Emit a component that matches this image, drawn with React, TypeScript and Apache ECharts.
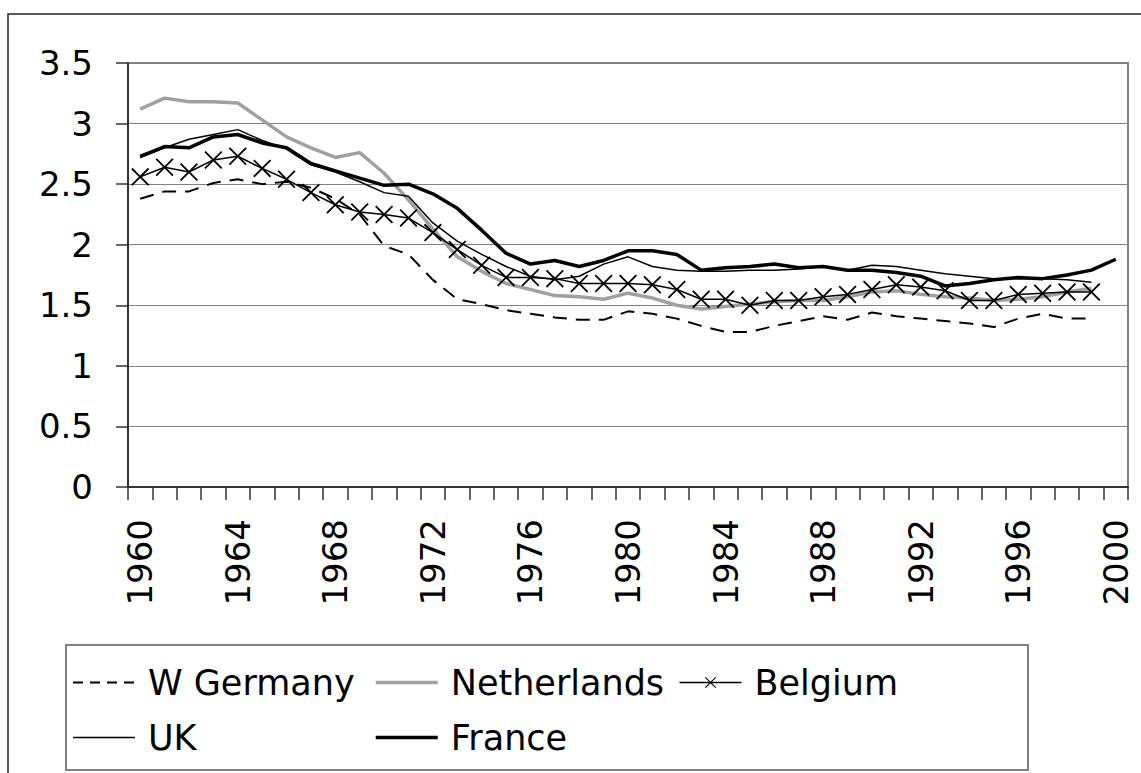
import React, { useEffect, useRef } from "react";
import * as echarts from "echarts";

const years = [
  "1960", "1961", "1962", "1963", "1964", "1965", "1966", "1967", "1968", "1969",
  "1970", "1971", "1972", "1973", "1974", "1975", "1976", "1977", "1978", "1979",
  "1980", "1981", "1982", "1983", "1984", "1985", "1986", "1987", "1988", "1989",
  "1990", "1991", "1992", "1993", "1994", "1995", "1996", "1997", "1998", "1999",
  "2000",
];

const wGermany = [
  2.38, 2.44, 2.44, 2.51, 2.54, 2.5, 2.52, 2.47, 2.38, 2.25,
  1.99, 1.92, 1.71, 1.55, 1.51, 1.46, 1.43, 1.4, 1.38, 1.38,
  1.45, 1.43, 1.39, 1.33, 1.28, 1.28, 1.33, 1.37, 1.41, 1.38,
  1.44, 1.41, 1.39, 1.37, 1.35, 1.32, 1.39, 1.43, 1.39, 1.39,
  null,
];

const netherlands = [
  3.12, 3.21, 3.18, 3.18, 3.17, 3.03, 2.89, 2.8, 2.72, 2.76,
  2.59, 2.37, 2.13, 1.9, 1.78, 1.68, 1.63, 1.58, 1.57, 1.55,
  1.6, 1.56, 1.5, 1.47, 1.49, 1.51, 1.53, 1.54, 1.54, 1.57,
  1.61, 1.62, 1.59, 1.57, 1.56, 1.54, 1.55, 1.57, 1.61, 1.64,
  null,
];

const belgium = [
  2.56, 2.64, 2.6, 2.7, 2.73, 2.63, 2.54, 2.43, 2.33, 2.27,
  2.25, 2.22, 2.1, 1.96, 1.83, 1.73, 1.73, 1.72, 1.68, 1.68,
  1.68, 1.67, 1.63, 1.55, 1.55, 1.5, 1.54, 1.54, 1.57, 1.59,
  1.63, 1.67, 1.65, 1.62, 1.54, 1.54, 1.59, 1.6, 1.61, 1.61,
  null,
];

const uk = [
  2.72, 2.8, 2.87, 2.91, 2.95, 2.86, 2.79, 2.66, 2.6, 2.52,
  2.43, 2.4, 2.18, 2.03, 1.92, 1.82, 1.74, 1.71, 1.74, 1.84,
  1.9, 1.82, 1.79, 1.78, 1.78, 1.79, 1.79, 1.8, 1.82, 1.79,
  1.83, 1.82, 1.79, 1.76, 1.74, 1.72, 1.72, 1.72, 1.71, 1.69,
  null,
];

const france = [
  2.73, 2.81, 2.8, 2.89, 2.91, 2.84, 2.8, 2.67, 2.61, 2.55,
  2.49, 2.5, 2.42, 2.3, 2.12, 1.93, 1.84, 1.87, 1.82, 1.87,
  1.95, 1.95, 1.92, 1.79, 1.81, 1.82, 1.84, 1.81, 1.82, 1.79,
  1.79, 1.77, 1.74, 1.66, 1.68, 1.71, 1.73, 1.72, 1.75, 1.79,
  1.88,
];

const FONT = "DejaVu Sans";
const X_SYMBOL = "path://M0,1L1,0L14,13L13,14Z M13,0L14,1L1,14L0,13Z";

export default function App() {
  const ref = useRef<HTMLDivElement>(null);

  useEffect(() => {
    if (!ref.current) return;
    const chart = echarts.init(ref.current, null, { renderer: "svg" });
    const axisColor = "#333333";
    const hidden = { opacity: 0 };
    chart.setOption({
      animation: false,
      backgroundColor: "#ffffff",
      textStyle: { fontFamily: FONT, color: "#000" },
      graphic: [
        {
          type: "rect",
          shape: { x: 8, y: 14, width: 1300, height: 900 },
          style: { fill: "none", stroke: "#222", lineWidth: 1.5 },
          silent: true,
          z: -10,
        },
      ],
      grid: {
        left: 128,
        top: 63,
        right: 13,
        bottom: 286,
        show: true,
        borderColor: "#808080",
        borderWidth: 2,
        outerBoundsMode: "none",
      },
      legend: {
        left: 66,
        top: 645,
        width: 950,
        orient: "horizontal",
        itemWidth: 62,
        itemHeight: 14,
        itemGap: 14,
        padding: [17, 130, 12, 6],
        borderColor: "#808080",
        borderWidth: 2,
        textStyle: {
          fontFamily: FONT,
          fontSize: 35,
          color: "#000",
          lineHeight: 41,
          padding: [0, 0, 0, 8],
        },
        data: [
          {
            name: "W Germany",
            itemStyle: hidden,
            lineStyle: { width: 2, type: [10, 7] },
            textStyle: { width: 212 },
          },
          {
            name: "Netherlands",
            itemStyle: hidden,
            lineStyle: { width: 3.5 },
            textStyle: { width: 214 },
          },
          { name: "Belgium", lineStyle: { width: 1.5 } },
          { name: "UK", itemStyle: hidden, lineStyle: { width: 1.5 }, textStyle: { width: 212 } },
          {
            name: "France",
            itemStyle: hidden,
            lineStyle: { width: 3.5 },
            textStyle: { width: 214 },
          },
        ],
      },
      xAxis: {
        type: "category",
        data: years,
        boundaryGap: true,
        axisLine: { lineStyle: { color: axisColor, width: 2 } },
        axisTick: { show: true, interval: 0, length: 13, lineStyle: { color: axisColor, width: 1.5 } },
        axisLabel: {
          interval: 3,
          rotate: 90,
          margin: 32,
          fontSize: 34,
          fontFamily: FONT,
          color: "#000",
        },
        splitLine: { show: false },
      },
      yAxis: {
        type: "value",
        min: 0,
        max: 3.5,
        interval: 0.5,
        axisLine: { show: true, lineStyle: { color: axisColor, width: 2 } },
        axisTick: { show: true, length: 12, lineStyle: { color: axisColor, width: 1.5 } },
        axisLabel: { margin: 35, fontSize: 34, fontFamily: FONT, color: "#000" },
        splitLine: { show: true, lineStyle: { color: "#808080", width: 1.2 } },
      },
      series: [
        {
          name: "W Germany",
          type: "line",
          data: wGermany,
          symbol: "none",
          lineStyle: { color: "#000", width: 2, type: [14, 9] },
          itemStyle: { color: "#000" },
        },
        {
          name: "Netherlands",
          type: "line",
          data: netherlands,
          symbol: "none",
          lineStyle: { color: "#a0a0a0", width: 3.5 },
          itemStyle: { color: "#a0a0a0" },
        },
        {
          name: "Belgium",
          type: "line",
          data: belgium,
          symbol: X_SYMBOL,
          symbolSize: 18,
          showSymbol: true,
          showAllSymbol: true,
          lineStyle: { color: "#000", width: 1.5 },
          itemStyle: { color: "#000" },
        },
        {
          name: "UK",
          type: "line",
          data: uk,
          symbol: "none",
          lineStyle: { color: "#000", width: 1.5 },
          itemStyle: { color: "#000" },
        },
        {
          name: "France",
          type: "line",
          data: france,
          symbol: "none",
          lineStyle: { color: "#000", width: 3.5 },
          itemStyle: { color: "#000" },
        },
      ],
    });
    return () => chart.dispose();
  }, []);

  return (
    <div
      ref={ref}
      style={{ position: "fixed", left: 0, top: 0, width: 1141, height: 773, background: "#fff" }}
    />
  );
}
